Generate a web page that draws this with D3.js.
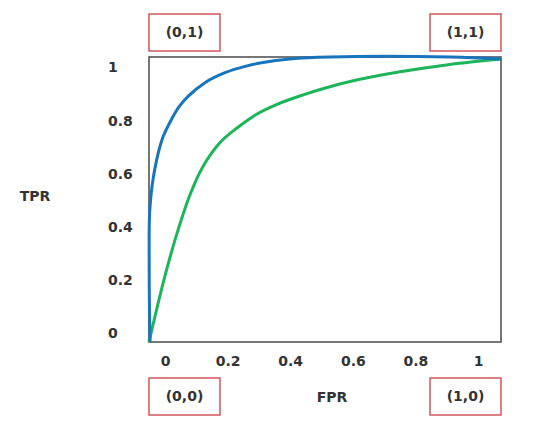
<!DOCTYPE html>
<html>
<head>
<meta charset="utf-8">
<script src="https://cdn.jsdelivr.net/npm/d3@7"></script>
<style>
  body { margin: 0; background: #fff; }
  text { font-family: "DejaVu Sans", Verdana, sans-serif; font-weight: bold; fill: #333; }
</style>
</head>
<body>
<svg id="chart" width="538" height="434"></svg>
<script>
// tick labels
const xTicks = [0, 0.2, 0.4, 0.6, 0.8, 1];
const yTicks = [0, 0.2, 0.4, 0.6, 0.8, 1];

// curves, in units of the plot frame (0..1 each way)
const blueFpr = [0.003, 0.001, 0.0005, 0.001, 0.0037, 0.0085, 0.016, 0.026, 0.040, 0.063, 0.085, 0.111, 0.159, 0.216, 0.273, 0.324, 0.40, 0.514, 0.855, 1];
const blueTpr = [0, 0.15, 0.30, 0.428, 0.487, 0.545, 0.604, 0.662, 0.720, 0.779, 0.825, 0.862, 0.910, 0.945, 0.967, 0.981, 0.993, 1.0, 1.0, 0.993];
const greenFpr = [0, 0.017, 0.045, 0.078, 0.116, 0.153, 0.202, 0.250, 0.307, 0.364, 0.438, 0.506, 0.571, 0.713, 0.855, 1];
const greenTpr = [0, 0.09, 0.23, 0.375, 0.515, 0.615, 0.700, 0.751, 0.800, 0.834, 0.867, 0.893, 0.914, 0.948, 0.974, 0.993];

// corner labels
const corners = ["(0,1)", "(1,1)", "(0,0)", "(1,0)"];

const svg = d3.select("#chart");

const frame = { left: 149, right: 501, top: 57, bottom: 342 };

// frame scales for the curves
const fx = d3.scaleLinear().domain([0, 1]).range([frame.left, frame.right]);
const fy = d3.scaleLinear().domain([0, 1]).range([frame.bottom, frame.top]);

// label scales (ticks sit a little inside the frame in the original)
const xTick = d3.scaleLinear().domain([0, 1]).range([165, 478]);
const yTick = d3.scaleLinear().domain([0, 1]).range([333, 67]);

svg.append("rect")
  .attr("x", frame.left)
  .attr("y", frame.top)
  .attr("width", frame.right - frame.left)
  .attr("height", frame.bottom - frame.top)
  .attr("fill", "none")
  .attr("stroke", "#555")
  .attr("stroke-width", 1.6);

let xAxis = svg.append("g")
  .attr("transform", "translate(0,361)")
  .call(d3.axisBottom(xTick).tickValues(xTicks).tickSize(0).tickPadding(0).tickFormat(d3.format("")));
xAxis.select(".domain").remove();
xAxis.selectAll("text")
  .attr("dy", "0.35em")
  .style("font-size", "14px")
  .attr("fill", "#333");

let yAxis = svg.append("g")
  .attr("transform", "translate(108,0)")
  .call(d3.axisLeft(yTick).tickValues(yTicks).tickSize(0).tickPadding(0).tickFormat(d3.format("")));
yAxis.select(".domain").remove();
yAxis.selectAll("text")
  .attr("text-anchor", "start")
  .attr("x", 0)
  .attr("dy", "0.35em")
  .style("font-size", "14px")
  .attr("fill", "#333");

svg.append("text")
  .attr("x", 332).attr("y", 397).attr("dy", "0.35em")
  .attr("text-anchor", "middle")
  .style("font-size", "14px")
  .text("FPR");

svg.append("text")
  .attr("x", 35).attr("y", 196).attr("dy", "0.35em")
  .attr("text-anchor", "middle")
  .style("font-size", "14px")
  .text("TPR");

const line = d3.line()
  .x((d) => fx(d[0]))
  .y((d) => fy(d[1]))
  .curve(d3.curveCatmullRom.alpha(0.5));

svg.append("path")
  .datum(greenFpr.map((v, i) => [v, greenTpr[i]]))
  .attr("d", line)
  .attr("fill", "none")
  .attr("stroke", "#1eb45a")
  .attr("stroke-width", 3);

svg.append("path")
  .datum(blueFpr.map((v, i) => [v, blueTpr[i]]))
  .attr("d", line)
  .attr("fill", "none")
  .attr("stroke", "#1874bb")
  .attr("stroke-width", 3);

// corner boxes: above the top corners, below the bottom corners
const boxW = 71, boxH = 37;
let boxes = svg.selectAll("g.corner")
  .data(corners)
  .join("g")
  .attr("class", "corner")
  .attr("transform", (d, i) => {
    let x = i % 2 == 0 ? frame.left : frame.right - boxW;
    let y = i < 2 ? 14 : 378;
    return `translate(${x},${y})`;
  });
boxes.append("rect")
  .attr("width", boxW)
  .attr("height", boxH)
  .attr("fill", "#fff")
  .attr("stroke", "#d2555c")
  .attr("stroke-width", 1.5);
boxes.append("text")
  .attr("x", boxW / 2)
  .attr("y", boxH / 2)
  .attr("dy", "0.35em")
  .attr("text-anchor", "middle")
  .style("font-size", "14px")
  .text((d) => d);
</script>
</body>
</html>
